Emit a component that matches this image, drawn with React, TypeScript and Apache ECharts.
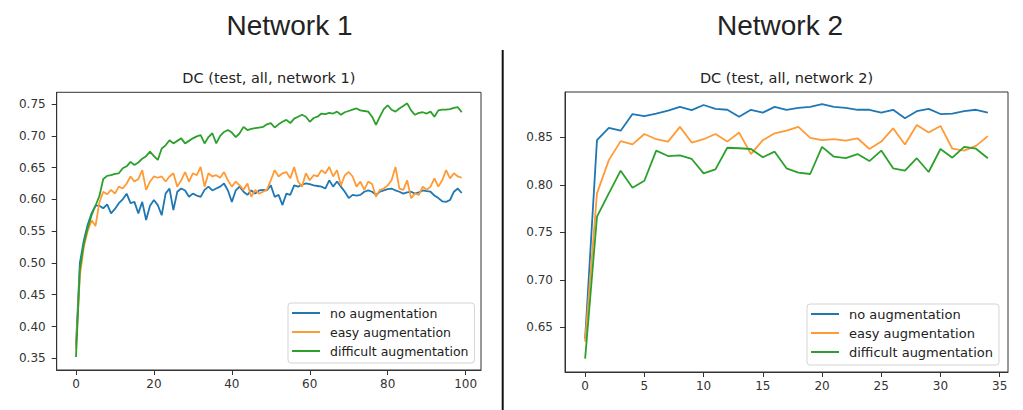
import React, { useEffect, useRef } from "react";
import * as echarts from "echarts";

const SERIES_NAMES = ["no augmentation", "easy augmentation", "difficult augmentation"];

// Network 1 (epochs 0..99)
const N1_NO = [
  0.37, 0.5, 0.535, 0.56, 0.578, 0.59, 0.59, 0.586, 0.592, 0.578,
  0.585, 0.594, 0.6, 0.609, 0.594, 0.596, 0.578, 0.596, 0.5675, 0.59,
  0.599, 0.591, 0.575, 0.609, 0.617, 0.583, 0.612, 0.617, 0.614, 0.604,
  0.609, 0.606, 0.604, 0.615, 0.62, 0.614, 0.617, 0.62, 0.625, 0.614,
  0.596, 0.614, 0.62, 0.612, 0.607, 0.614, 0.609, 0.614, 0.615, 0.614,
  0.622, 0.604, 0.607, 0.591, 0.609, 0.607, 0.622, 0.62, 0.623, 0.625,
  0.624, 0.622, 0.621, 0.62, 0.617, 0.63, 0.62, 0.628, 0.62, 0.612,
  0.602, 0.607, 0.606, 0.607, 0.612, 0.614, 0.612, 0.607, 0.612, 0.614,
  0.616, 0.617, 0.614, 0.612, 0.609, 0.611, 0.612, 0.609, 0.611, 0.614,
  0.613, 0.612, 0.606, 0.602, 0.597, 0.596, 0.599, 0.612, 0.617, 0.61,
];
const N1_EASY = [
  0.365, 0.48, 0.525, 0.55, 0.567, 0.558, 0.595, 0.612, 0.608, 0.615,
  0.609, 0.62, 0.617, 0.625, 0.636, 0.628, 0.632, 0.646, 0.615, 0.628,
  0.636, 0.634, 0.636, 0.628, 0.636, 0.641, 0.62, 0.63, 0.643, 0.628,
  0.641, 0.638, 0.651, 0.62, 0.641, 0.636, 0.638, 0.634, 0.643, 0.63,
  0.62, 0.628, 0.622, 0.615, 0.625, 0.604, 0.615, 0.609, 0.612, 0.615,
  0.63, 0.646, 0.636, 0.641, 0.643, 0.633, 0.651, 0.628, 0.62, 0.641,
  0.63, 0.638, 0.636, 0.646, 0.641, 0.651, 0.636, 0.646, 0.622, 0.638,
  0.643, 0.636, 0.62, 0.628, 0.615, 0.628, 0.624, 0.604, 0.615, 0.617,
  0.622, 0.63, 0.651, 0.617, 0.615, 0.63, 0.602, 0.609, 0.607, 0.62,
  0.615, 0.62, 0.633, 0.62, 0.63, 0.646, 0.633, 0.641, 0.636, 0.634,
];
const N1_DIFF = [
  0.352, 0.49, 0.53, 0.555, 0.575, 0.59, 0.605, 0.632, 0.637, 0.638,
  0.64, 0.641, 0.649, 0.652, 0.659, 0.654, 0.658, 0.664, 0.668, 0.675,
  0.668, 0.662, 0.68, 0.685, 0.693, 0.688, 0.692, 0.696, 0.688, 0.692,
  0.696, 0.699, 0.701, 0.688, 0.698, 0.704, 0.688, 0.7, 0.706, 0.709,
  0.705, 0.698, 0.704, 0.714, 0.709, 0.711, 0.712, 0.713, 0.714, 0.718,
  0.72, 0.713, 0.718, 0.722, 0.725, 0.72, 0.727, 0.73, 0.733, 0.73,
  0.722, 0.728, 0.73, 0.735, 0.734, 0.736, 0.735, 0.738, 0.733, 0.737,
  0.739, 0.741, 0.743, 0.74, 0.739, 0.738, 0.73, 0.717, 0.73, 0.742,
  0.748, 0.741, 0.738, 0.743, 0.747, 0.751, 0.74, 0.733, 0.736, 0.737,
  0.735, 0.738, 0.73, 0.74, 0.741, 0.741, 0.742, 0.744, 0.745, 0.737,
];

// Network 2 (epochs 0..34)
const N2_NO = [
  0.638, 0.847, 0.86, 0.857, 0.8745, 0.8724, 0.875, 0.878, 0.882, 0.8787,
  0.884, 0.88, 0.879, 0.8717, 0.879, 0.876, 0.882, 0.879, 0.881, 0.882,
  0.885, 0.882, 0.881, 0.879, 0.879, 0.876, 0.879, 0.87, 0.8775, 0.88,
  0.8745, 0.875, 0.8775, 0.879, 0.876,
];
const N2_EASY = [
  0.635, 0.791, 0.826, 0.846, 0.8426, 0.8535, 0.848, 0.8455, 0.861, 0.8445,
  0.848, 0.8535, 0.8455, 0.855, 0.8324, 0.847, 0.8542, 0.857, 0.861, 0.8495,
  0.847, 0.848, 0.8465, 0.849, 0.8377, 0.8455, 0.8595, 0.8424, 0.863, 0.855,
  0.862, 0.838, 0.836, 0.841, 0.8513,
];
const N2_DIFF = [
  0.617, 0.7665, 0.791, 0.8149, 0.797, 0.8043, 0.836, 0.8303, 0.831, 0.8272,
  0.812, 0.8163, 0.839, 0.8385, 0.8377, 0.829, 0.8349, 0.8174, 0.8128, 0.8114,
  0.84, 0.8296, 0.828, 0.8324, 0.825, 0.836, 0.8174, 0.815, 0.828, 0.8135,
  0.8377, 0.8286, 0.84, 0.838, 0.828,
];

const X1_TICKS = [0, 20, 40, 60, 80, 100];
const Y1_TICKS = [0.35, 0.4, 0.45, 0.5, 0.55, 0.6, 0.65, 0.7, 0.75];
const X2_TICKS = [0, 5, 10, 15, 20, 25, 30, 35];
const Y2_TICKS = [0.65, 0.7, 0.75, 0.8, 0.85];

const COLORS = ["#1f77b4", "#ff9a35", "#2ca02c"];
const TICK_FONT = "'DejaVu Sans', sans-serif";

function axisCommon(ticks: number[], fmt: (v: number) => string, margin: number) {
  return {
    type: "value" as const,
    splitLine: { show: false },
    axisLine: { show: true, onZero: false, lineStyle: { color: "#333", width: 1 } },
    axisTick: {
      show: true,
      length: 5,
      inside: false,
      customValues: ticks,
      lineStyle: { color: "#333", width: 1 },
    },
    axisLabel: {
      customValues: ticks,
      formatter: (v: number) => fmt(v),
      color: "#333",
      fontSize: 12,
      fontFamily: TICK_FONT,
      margin,
    },
  };
}

function toPairs(arr: number[]) {
  return arr.map((v, i) => [i, v]);
}

export default function App() {
  const ref = useRef<HTMLDivElement>(null);
  useEffect(() => {
    if (!ref.current) return;
    const chart = echarts.init(ref.current, null, { renderer: "svg" });
    const groups = [
      [N1_NO, N1_EASY, N1_DIFF],
      [N2_NO, N2_EASY, N2_DIFF],
    ];
    const series: any[] = [];
    groups.forEach((g, gi) => {
      g.forEach((arr, si) => {
        series.push({
          type: "line",
          name: SERIES_NAMES[si],
          xAxisIndex: gi,
          yAxisIndex: gi,
          data: toPairs(arr),
          showSymbol: false,
          symbol: "none",
          lineStyle: { color: COLORS[si], width: 1.8 },
          itemStyle: { color: COLORS[si] },
          z: 2 + si,
        });
      });
    });
    const legendBase = {
      orient: "vertical" as const,
      data: SERIES_NAMES,
      icon: "rect",
      itemWidth: 28,
      itemHeight: 2,
      itemGap: 5,
      backgroundColor: "#fff",
      borderColor: "#d4d4d4",
      borderWidth: 1,
      borderRadius: 3,
      selectedMode: false,
      z: 10,
    };
    chart.setOption({
      animation: false,
      backgroundColor: "#fff",
      grid: [
        { left: 56.7, top: 92.3, width: 424.3, height: 277.7, show: true, borderColor: "#333", borderWidth: 1, backgroundColor: "transparent" },
        { left: 565, top: 92, width: 443, height: 280, show: true, borderColor: "#333", borderWidth: 1, backgroundColor: "transparent" },
      ],
      xAxis: [
        { ...axisCommon(X1_TICKS, (v) => String(v), 8), gridIndex: 0, min: -4.95, max: 103.95 },
        { ...axisCommon(X2_TICKS, (v) => String(v), 8), gridIndex: 1, min: -1.7, max: 35.7 },
      ],
      yAxis: [
        { ...axisCommon(Y1_TICKS, (v) => v.toFixed(2), 11), gridIndex: 0, min: 0.3316, max: 0.7684 },
        { ...axisCommon(Y2_TICKS, (v) => v.toFixed(2), 12), gridIndex: 1, min: 0.603, max: 0.8977 },
      ],
      legend: [
        {
          ...legendBase,
          left: 288,
          top: 303,
          padding: [3, 6, 5, 4],
          textStyle: { color: "#222", fontSize: 12.5, fontFamily: TICK_FONT, lineHeight: 14, padding: [0, 0, 0, 5] },
        },
        {
          ...legendBase,
          left: 807,
          top: 304,
          padding: [3, 6, 6, 4],
          textStyle: { color: "#222", fontSize: 13, fontFamily: TICK_FONT, lineHeight: 14, padding: [0, 0, 0, 5] },
        },
      ],
      graphic: [
        {
          type: "text",
          x: 289.5,
          y: 25,
          style: { text: "Network 1", fill: "#222", font: "28px 'Liberation Sans', Arial, sans-serif", textAlign: "center", textVerticalAlign: "middle" },
        },
        {
          type: "text",
          x: 780,
          y: 25,
          style: { text: "Network 2", fill: "#222", font: "28px 'Liberation Sans', Arial, sans-serif", textAlign: "center", textVerticalAlign: "middle" },
        },
        {
          type: "text",
          x: 268.9,
          y: 78,
          style: { text: "DC (test, all, network 1)", fill: "#222", font: "14.5px 'DejaVu Sans', sans-serif", textAlign: "center", textVerticalAlign: "middle" },
        },
        {
          type: "text",
          x: 786.5,
          y: 78,
          style: { text: "DC (test, all, network 2)", fill: "#222", font: "14.5px 'DejaVu Sans', sans-serif", textAlign: "center", textVerticalAlign: "middle" },
        },
        {
          type: "line",
          shape: { x1: 502.7, y1: 50, x2: 502.7, y2: 410 },
          style: { stroke: "#111", lineWidth: 2 },
        },
      ],
      series,
    });
    return () => chart.dispose();
  }, []);
  return (
    <div
      ref={ref}
      style={{ position: "fixed", left: 0, top: 0, width: 1023, height: 410, background: "#fff" }}
    />
  );
}
